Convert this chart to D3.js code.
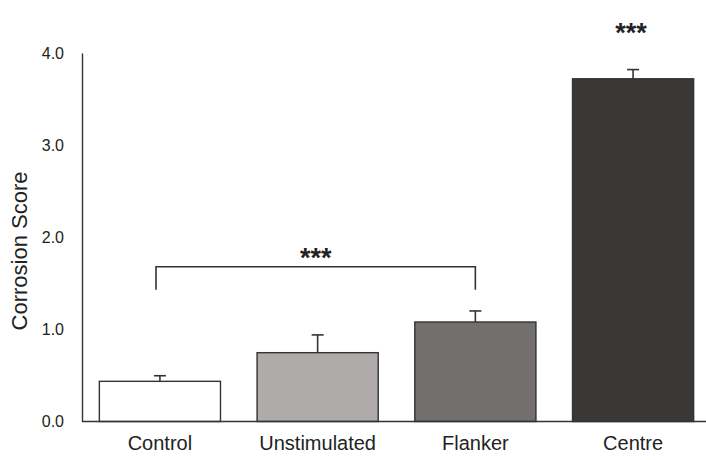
<!DOCTYPE html>
<html>
<head>
<meta charset="utf-8">
<script src="https://cdn.jsdelivr.net/npm/d3@7"></script>
<style>
  html, body { margin: 0; padding: 0; background: #fff; }
  svg { display: block; font-family: "Liberation Sans", Arial, sans-serif; }
</style>
</head>
<body>
<svg id="chart" width="706" height="460"></svg>
<script>
// Mean corrosion score per stimulation group, with the upper end of each error bar
const categories = ["Control", "Unstimulated", "Flanker", "Centre"];
const means = [0.436, 0.747, 1.08, 3.72];
const errTops = [0.497, 0.94, 1.20, 3.82];
const fills = ["#ffffff", "#afabaa", "#736f6e", "#3a3837"];
const yTicks = [0, 1, 2, 3, 4];
const yTitle = "Corrosion Score";
const sigLabel = "***";

const svg = d3.select("#chart");

const x = d3.scaleBand()
  .domain(categories)
  .range([82, 711])
  .paddingInner(0.232)
  .paddingOuter(0.11);

const y = d3.scaleLinear().domain([0, 4]).range([421.5, 53]);

const ink = "#333";

// Bars
svg.append("g").selectAll("rect")
  .data(categories)
  .join("rect")
  .attr("x", d => x(d))
  .attr("y", (d, i) => y(means[i]))
  .attr("width", x.bandwidth())
  .attr("height", (d, i) => y(0) - y(means[i]))
  .attr("fill", (d, i) => fills[i])
  .attr("stroke", ink)
  .attr("stroke-width", 1.4);

// Error bars (upper whisker only)
const eb = svg.append("g").attr("stroke", ink).attr("stroke-width", 1.6);
categories.forEach((c, i) => {
  const cx = x(c) + x.bandwidth() / 2;
  eb.append("line").attr("x1", cx).attr("x2", cx)
    .attr("y1", y(means[i])).attr("y2", y(errTops[i]));
  eb.append("line").attr("x1", cx - 6).attr("x2", cx + 6)
    .attr("y1", y(errTops[i])).attr("y2", y(errTops[i]));
});

// Y axis
const yAxis = d3.axisLeft(y).tickValues(yTicks).tickFormat(d3.format(".1f")).tickSize(0).tickPadding(18);
const yg = svg.append("g").attr("transform", "translate(82,0)").call(yAxis);
yg.select(".domain").attr("stroke", ink).attr("stroke-width", 1.4);
yg.selectAll("text").attr("font-size", 16).attr("fill", "#222")
  .attr("font-family", "Liberation Sans, Arial, sans-serif");

// X axis
const xAxis = d3.axisBottom(x).tickSize(0).tickPadding(14);
const xg = svg.append("g").attr("transform", `translate(0,${y(0)})`).call(xAxis);
xg.select(".domain").attr("d", "M82,0H706").attr("stroke", ink).attr("stroke-width", 1.4);
xg.selectAll("text").attr("font-size", 20).attr("fill", "#222")
  .attr("font-family", "Liberation Sans, Arial, sans-serif");

// Y title
svg.append("text")
  .attr("transform", "translate(27,251) rotate(-90)")
  .attr("text-anchor", "middle")
  .attr("font-size", 22)
  .attr("fill", "#222")
  .text(yTitle);

// Significance bracket between Control and Flanker
const bx1 = 156, bx2 = x("Flanker") + x.bandwidth() / 2;
const bTop = y(1.68), bBot = y(1.43);
svg.append("path")
  .attr("d", `M${bx1},${bBot}V${bTop}H${bx2}V${bBot}`)
  .attr("fill", "none").attr("stroke", ink).attr("stroke-width", 1.6);
svg.append("text")
  .attr("x", (bx1 + bx2) / 2).attr("y", bTop)
  .attr("text-anchor", "middle").attr("font-size", 27).attr("font-weight", "bold").attr("fill", "#222")
  .text(sigLabel);

// Significance for Centre
svg.append("text")
  .attr("x", x("Centre") + x.bandwidth() / 2 - 2).attr("y", y(4.12))
  .attr("text-anchor", "middle").attr("font-size", 27).attr("font-weight", "bold").attr("fill", "#222")
  .text(sigLabel);
</script>
</body>
</html>
